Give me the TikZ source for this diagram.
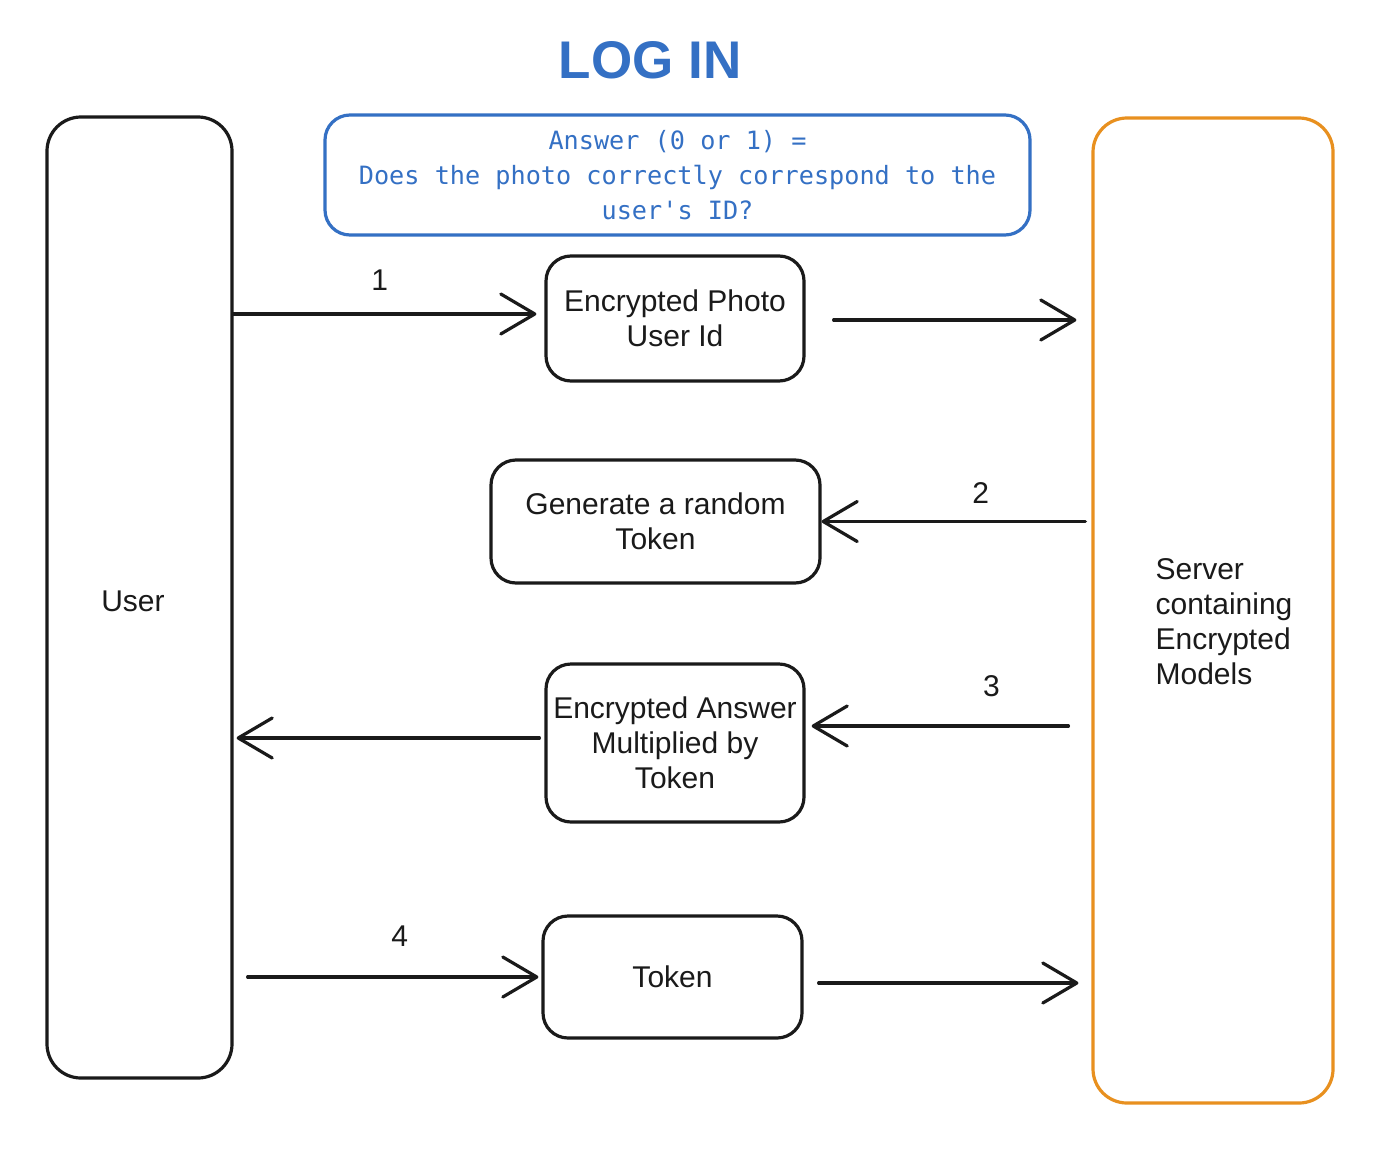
\documentclass[tikz,border=0pt]{standalone}
\usepackage{fontspec}
\setmainfont{Liberation Sans}
\newfontfamily\codefont{DejaVu Sans Mono}
\usetikzlibrary{arrows.meta,calc}
\definecolor{exblue}{HTML}{3470C4}
\definecolor{exorange}{HTML}{E8901F}
\definecolor{exink}{HTML}{1A1A1A}
\tikzset{
  sketchbox/.style={draw=exink, line width=1.6pt, rounded corners=12.5pt, align=center,
    font=\fontsize{15}{17.5}\selectfont, text=exink, inner sep=0pt},
  lane/.style={draw=exink, line width=1.6pt, rounded corners=17pt, align=center,
    font=\fontsize{15}{17.5}\selectfont, text=exink, inner sep=0pt},
  serverlane/.style={draw=exorange, line width=1.6pt, rounded corners=17pt, inner sep=0pt},
  notebox/.style={draw=exblue, line width=1.6pt, rounded corners=12.5pt, align=center,
    font=\codefont\fontsize{12.6}{17.5}\selectfont, text=exblue, inner sep=0pt},
  flow/.style={draw=exink, line width=1.6pt, line cap=round,
    -{Straight Barb[length=17pt,width=20pt,line width=1.6pt,round]}},
  steplabel/.style={font=\fontsize{15}{17.5}\selectfont, text=exink, anchor=center}
}
\begin{document}
\begin{tikzpicture}[x=0.5pt,y=-0.5pt]
\useasboundingbox[fill=white] (0,0) rectangle (1400,1150);

% title
\node[text=exblue, font=\bfseries\fontsize{26.5}{30}\selectfont] (title) at (650,60) {LOG IN};

% note box
\node[notebox, minimum width=352.5pt, minimum height=60pt] (note) at (677.5,175)
  {Answer (0 or 1) =\\Does the photo correctly correspond to the\\user's ID?};

% lanes
\node[lane, minimum width=92.5pt, minimum height=480.5pt] (user) at (139.5,597.5) {};
\node[font=\fontsize{15}{17.5}\selectfont, text=exink] (usertext) at (133,601) {User};
\node[serverlane, minimum width=120pt, minimum height=492.5pt] (server) at (1213,610.5) {};
\node[align=left, font=\fontsize{15}{17.5}\selectfont, text=exink] (servertext) at (1224,622)
  {Server\\containing\\Encrypted\\Models};

% step boxes
\node[sketchbox, minimum width=129pt, minimum height=62.5pt] (photo) at (675,318.5)
  {Encrypted Photo\\User Id};
\node[sketchbox, minimum width=164.5pt, minimum height=61.5pt] (gen) at (655.5,521.5)
  {Generate a random\\Token};
\node[sketchbox, minimum width=129pt, minimum height=79pt] (ans) at (675,743)
  {Encrypted Answer\\Multiplied by\\Token};
\node[sketchbox, minimum width=129.5pt, minimum height=61pt] (tok) at (672.5,977)
  {Token};

% connectors
\draw[flow, shorten >=4pt] (user.east |- 0,314) -- (photo.west |- 0,314)
  node[steplabel, pos=0.47, yshift=17pt] (l1) {1};
\draw[flow, shorten <=14pt, shorten >=7.5pt] (photo.east |- 0,320) -- (server.west |- 0,320);
\draw[flow, shorten <=3pt] (server.west |- gen.east) -- (gen.east)
  node[steplabel, pos=0.41, yshift=14pt] (l2) {2};
\draw[flow, shorten <=11.5pt, shorten >=3pt] ([yshift=8.5pt]ans.east -| server.west) -- ([yshift=8.5pt]ans.east)
  node[steplabel, pos=0.35, yshift=20pt] (l3) {3};
\draw[flow, shorten <=2.5pt, shorten >=1.5pt] ([yshift=2.5pt]ans.west) -- ([yshift=2.5pt]ans.west -| user.east);
\draw[flow, shorten <=7pt, shorten >=1.5pt] (user.east |- tok.west) -- (tok.west)
  node[steplabel, pos=0.54, yshift=20.5pt] (l4) {4};
\draw[flow, shorten <=7.5pt, shorten >=6.5pt] ([yshift=-3pt]tok.east) -- ([yshift=-3pt]tok.east -| server.west);
\end{tikzpicture}
\end{document}
